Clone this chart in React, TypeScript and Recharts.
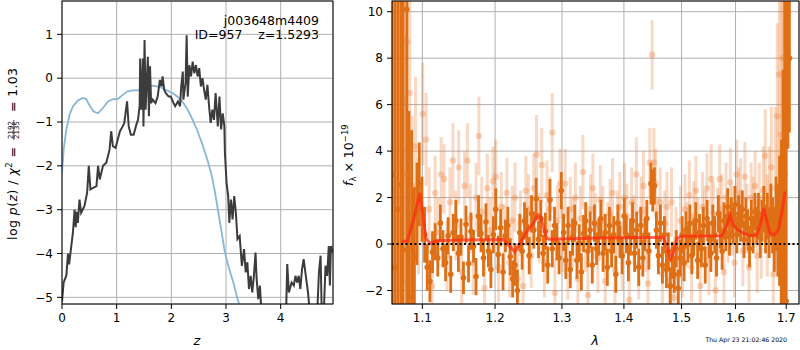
import React from 'react';
import { LineChart, Line, XAxis, YAxis, CartesianGrid, ComposedChart, Scatter, ErrorBar, ReferenceLine } from 'recharts';

// ---- left panel: log p(z) ----
const pzZ = [0.0,0.03,0.08,0.11,0.13,0.17,0.2,0.23,0.25,0.27,0.29,0.32,0.35,0.41,0.46,0.49,0.52,0.57,0.63,0.66,0.69,0.75,0.81,0.87,0.9,0.93,0.98,1.02,1.06,1.11,1.14,1.19,1.22,1.26,1.31,1.36,1.39,1.42,1.43,1.45,1.48,1.49,1.51,1.53,1.55,1.57,1.59,1.61,1.63,1.66,1.71,1.75,1.79,1.82,1.84,1.87,1.9,1.95,1.99,2.04,2.07,2.12,2.16,2.18,2.21,2.22,2.26,2.28,2.3,2.33,2.36,2.39,2.42,2.45,2.48,2.51,2.54,2.57,2.6,2.63,2.66,2.69,2.72,2.75,2.78,2.81,2.85,2.88,2.91,2.94,2.97,2.98,3.01,3.04,3.06,3.09,3.12,3.15,3.18,3.21,3.25,3.29,3.33,3.36,3.39,3.42,3.45,3.48,3.51,3.54,3.56,3.59,3.62,3.66,3.8,4.0,4.1,4.12,4.15,4.2,4.24,4.27,4.3,4.33,4.36,4.39,4.42,4.46,4.5,4.53,4.6,4.67,4.7,4.73,4.75,4.79,4.82,4.85,4.88,4.9,4.92,4.95];
const pzLog = [-5.1,-4.66,-4.5,-4.0,-4.25,-3.83,-3.52,-3.0,-3.4,-3.05,-3.3,-2.77,-3.07,-2.92,-2.61,-2.0,-2.54,-2.5,-2.46,-2.0,-2.31,-2.0,-1.93,-1.63,-1.21,-1.55,-1.59,-1.4,-1.21,-1.1,-1.02,-0.53,-1.1,-1.29,-1.29,-1.06,-0.95,-0.64,0.45,-0.72,0.45,-1.1,0.87,-0.72,-0.11,0.49,-0.87,0.27,-0.57,-0.49,-0.57,-0.42,-0.04,-0.19,0.04,-0.27,-0.34,-0.42,-0.42,-0.57,-0.64,-0.53,-0.64,-0.19,0.15,-0.49,-0.11,0.98,-0.42,0.3,0.04,0.38,0.11,0.3,0.04,0.23,-0.19,0.0,-0.27,-0.49,-0.15,-0.64,-1.02,-0.72,-0.95,-0.34,-1.1,-0.42,-1.17,-0.8,-1.1,-1.7,-2.39,-2.69,-3.3,-2.77,-3.22,-2.69,-3.07,-3.67,-3.6,-4.28,-3.9,-4.43,-4.2,-4.81,-4.51,-4.89,-4.51,-3.98,-4.58,-5.04,-4.73,-5.6,-6.2,-6.0,-5.3,-4.24,-4.89,-4.66,-4.73,-4.51,-4.66,-4.51,-4.81,-4.36,-4.13,-4.51,-4.89,-5.3,-6.0,-5.3,-4.43,-4.05,-5.3,-5.3,-4.28,-4.51,-3.83,-4.73,-3.83,-3.98];
const priorZ = [0.0,0.03,0.08,0.14,0.2,0.29,0.38,0.44,0.5,0.58,0.66,0.75,0.84,0.93,1.02,1.11,1.2,1.29,1.39,1.48,1.57,1.66,1.75,1.84,1.93,2.02,2.12,2.21,2.3,2.39,2.48,2.57,2.66,2.74,2.8,2.86,2.92,2.98,3.06,3.15,3.21,3.25,3.35];
const priorLog = [-2.16,-1.63,-1.17,-0.83,-0.64,-0.51,-0.45,-0.47,-0.61,-0.76,-0.8,-0.68,-0.53,-0.48,-0.48,-0.38,-0.3,-0.28,-0.28,-0.25,-0.19,-0.17,-0.19,-0.23,-0.28,-0.34,-0.43,-0.55,-0.72,-0.95,-1.21,-1.52,-1.86,-2.23,-2.61,-3.07,-3.52,-3.98,-4.36,-4.73,-5.04,-5.19,-5.8];
const zTicks = [0, 1, 2, 3, 4];
const logPTicks = [-5, -4, -3, -2, -1, 0, 1];

// ---- right panel: spectrum ----
const darkLam = [
  1.0612,1.0650,1.0685,1.0723,1.0750,1.0797,1.0826,1.0860,1.0896,1.0930,
  1.0960,1.0995,1.1030,1.1065,1.1100,1.1135,1.1170,1.1205,1.1240,1.1275,
  1.1310,1.1345,1.1380,1.1415,1.1450,1.1485,1.1520,1.1555,1.1590,1.1625,
  1.1660,1.1695,1.1730,1.1765,1.1800,1.1835,1.1870,1.1905,1.1940,1.1975,
  1.2010,1.2045,1.2080,1.2115,1.2150,1.2185,1.2220,1.2255,1.2290,1.2325,
  1.2360,1.2395,1.2430,1.2465,1.2500,1.2535,1.2570,1.2605,1.2640,1.2675,
  1.2710,1.2745,1.2780,1.2815,1.2850,1.2885,1.2920,1.2955,1.2990,1.3025,
  1.3060,1.3095,1.3130,1.3165,1.3200,1.3235,1.3270,1.3305,1.3340,1.3375,
  1.3410,1.3445,1.3480,1.3515,1.3550,1.3585,1.3620,1.3655,1.3690,1.3725,
  1.3760,1.3795,1.3830,1.3865,1.3900,1.3935,1.3970,1.4005,1.4040,1.4075,
  1.4110,1.4145,1.4180,1.4215,1.4250,1.4285,1.4320,1.4355,1.4390,1.4425,
  1.4460,1.4490,1.4520,1.4555,1.4590,1.4625,1.4660,1.4695,1.4730,1.4765,
  1.4800,1.4835,1.4870,1.4905,1.4940,1.4975,1.5010,1.5045,1.5080,1.5115,
  1.5150,1.5185,1.5220,1.5255,1.5290,1.5325,1.5360,1.5395,1.5430,1.5465,
  1.5500,1.5535,1.5570,1.5605,1.5640,1.5675,1.5710,1.5745,1.5780,1.5815,
  1.5850,1.5885,1.5920,1.5955,1.5990,1.6025,1.6060,1.6095,1.6130,1.6165,
  1.6200,1.6235,1.6270,1.6305,1.6340,1.6375,1.6410,1.6445,1.6480,1.6515,
  1.6550,1.6585,1.6620,1.6655,1.6690,1.6725,1.6760,1.6795,1.6830,1.6865,
  1.6900,1.6935,1.6970,1.7000,1.7035,1.7065];
const darkFlux = [
  3.0,-1.0,1.5,2.55,-0.26,10.1,-2.27,0.9,-0.55,1.3,
  2.57,1.5,0.4,-1.0,-1.6,-0.35,0.1,-0.6,0.9,-0.2,
  -0.8,0.35,-1.3,0.5,1.0,-0.4,0.3,-1.45,0.85,-0.85,
  0.55,-0.1,-1.4,1.2,0.45,-0.6,0.95,-0.3,-1.1,0.4,
  1.5,-0.45,0.7,-1.2,0.35,0.8,-0.55,-1.5,-0.9,-2.0,
  0.5,-0.3,1.0,0.75,-0.5,1.3,0.6,1.95,0.2,1.1,
  -0.4,0.55,-0.9,1.9,-0.2,0.8,0.1,-0.6,2.3,0.5,
  -0.7,0.8,-1.1,0.3,0.9,-0.7,0.05,-1.2,0.45,1.0,
  -0.3,0.6,-0.9,0.9,-0.2,0.3,1.1,-0.4,0.5,-1.0,
  0.8,-0.3,0.4,-1.3,0.9,0.1,-0.5,1.2,0.4,-0.8,
  0.3,1.0,-0.4,0.6,-1.0,0.8,-0.6,0.4,1.1,-0.3,
  2.6,2.3,2.5,0.6,-0.5,0.9,-0.9,0.4,-1.1,-0.3,
  -1.8,-0.7,-1.3,-0.2,-1.9,-0.6,0.4,-0.8,0.6,0.0,
  0.9,-0.5,0.3,1.0,-0.7,0.5,-0.2,0.8,-0.9,1.1,
  0.2,-0.4,0.9,0.4,-0.6,1.3,0.6,-0.3,1.0,0.5,
  1.6,0.3,1.2,0.8,1.7,0.4,1.3,0.9,1.5,0.2,
  1.2,0.7,-0.2,1.1,0.4,1.4,0.8,1.3,0.3,1.0,
  1.6,0.6,1.2,0.4,1.5,0.8,0.2,1.3,0.6,1.0,
  0.5,1.5,3.0,-2.45,8.0,8.0];
const darkErr = [
  30,30,30,25,20,20,8,4,3,2.2,
  1.8,1.4,1.2,1.0,0.9,0.9,0.8,0.8,0.8,0.8,
  0.8,0.8,0.8,0.8,0.9,0.8,0.8,0.7,0.8,0.8,
  0.8,0.7,0.8,0.9,0.8,0.8,0.8,0.7,0.8,0.8,
  0.9,0.8,0.8,0.8,0.7,0.8,0.8,0.8,0.9,0.9,
  0.8,0.8,0.8,0.8,0.8,0.8,0.8,0.9,0.8,0.8,
  0.8,0.8,0.8,0.9,0.8,0.8,0.8,0.7,0.8,0.8,
  0.8,0.8,0.8,0.8,0.8,0.8,0.8,0.8,0.8,0.8,
  0.7,0.8,0.8,0.8,0.7,0.8,0.8,0.8,0.8,0.8,
  0.8,0.7,0.8,0.8,0.8,0.7,0.8,0.8,0.8,0.8,
  0.8,0.8,0.8,0.8,0.8,0.8,0.8,0.7,0.8,0.8,
  0.9,0.9,0.8,0.8,0.8,0.8,0.8,0.8,0.8,0.8,
  0.8,0.8,0.8,0.8,0.8,0.8,0.8,0.8,0.8,0.8,
  0.8,0.8,0.8,0.8,0.8,0.8,0.8,0.8,0.8,0.8,
  0.8,0.8,0.8,0.8,0.8,0.8,0.8,0.8,0.8,0.8,
  0.8,0.8,0.8,0.8,0.8,0.8,0.8,0.8,0.8,0.8,
  0.8,0.8,0.8,0.8,0.8,0.8,0.8,0.9,0.9,0.9,
  0.9,1.0,1.0,1.0,1.1,1.2,1.4,1.6,2.0,2.8,
  4,6,10,20,3.9,3.2];

const lightLam = [
  1.0640,1.0700,1.0760,1.0790,1.0805,1.0835,1.0870,1.0910,1.0950,1.1005,
  1.1050,1.1090,1.1130,1.1170,1.1210,1.1250,1.1290,1.1330,1.1370,1.1410,
  1.1450,1.1490,1.1530,1.1570,1.1610,1.1650,1.1690,1.1730,1.1770,1.1810,
  1.1850,1.1890,1.1930,1.1970,1.2010,1.2050,1.2090,1.2130,1.2170,1.2210,
  1.2250,1.2290,1.2330,1.2370,1.2410,1.2450,1.2490,1.2530,1.2570,1.2610,
  1.2650,1.2690,1.2730,1.2770,1.2810,1.2850,1.2890,1.2930,1.2970,1.3010,
  1.3050,1.3090,1.3130,1.3170,1.3210,1.3250,1.3290,1.3330,1.3370,1.3410,
  1.3450,1.3490,1.3530,1.3570,1.3610,1.3650,1.3690,1.3730,1.3770,1.3810,
  1.3850,1.3890,1.3930,1.3970,1.4010,1.4050,1.4090,1.4130,1.4170,1.4210,
  1.4250,1.4290,1.4330,1.4370,1.4410,1.4440,1.4480,1.4510,1.4540,1.4580,
  1.4620,1.4660,1.4700,1.4740,1.4780,1.4820,1.4860,1.4900,1.4940,1.4980,
  1.5020,1.5060,1.5100,1.5140,1.5180,1.5220,1.5260,1.5300,1.5340,1.5380,
  1.5420,1.5460,1.5500,1.5540,1.5580,1.5620,1.5660,1.5700,1.5740,1.5780,
  1.5820,1.5860,1.5900,1.5940,1.5980,1.6020,1.6060,1.6100,1.6140,1.6180,
  1.6220,1.6260,1.6300,1.6340,1.6380,1.6420,1.6460,1.6500,1.6540,1.6580,
  1.6620,1.6660,1.6700,1.6740,1.6780,1.6820,1.6860,1.6900,1.6930,1.6960];
const lightFlux = [
  4.0,1.5,6.2,3.0,8.7,6.5,2.5,4.2,1.2,5.6,
  4.5,1.5,-1.8,2.2,0.5,3.0,2.8,-0.5,1.8,3.6,
  0.8,3.3,-1.2,2.5,3.6,1.1,-0.8,2.0,4.65,1.4,
  -1.9,2.4,0.6,2.7,2.9,-1.0,1.6,0.3,2.2,-0.8,
  1.0,2.0,-1.5,0.9,-1.8,2.3,1.5,-0.5,2.4,3.85,
  0.7,3.4,-0.8,2.1,1.5,4.8,-2.1,1.0,2.6,0.2,
  2.6,-0.9,1.5,0.5,2.0,-1.5,1.1,3.1,0.3,-2.2,
  1.5,2.4,0.8,-0.6,1.9,1.0,-1.6,0.4,1.3,2.2,
  -1.1,0.9,1.6,-0.5,2.0,1.2,-2.4,1.8,0.6,3.0,
  -0.9,1.4,2.5,0.2,-1.7,3.5,8.15,3.5,2.6,0.5,
  1.8,-1.3,0.9,1.6,-1.6,1.8,-2.3,0.2,-1.4,1.0,
  -0.8,1.5,0.4,2.1,-1.0,1.2,2.3,0.6,-1.8,1.6,
  0.8,2.4,-0.7,2.8,1.3,-2.0,0.9,2.8,1.5,-1.2,
  2.0,0.6,2.65,1.0,-0.8,3.0,1.8,2.2,-0.3,2.9,
  1.1,-1.0,2.0,1.4,2.5,-0.5,1.8,0.3,2.3,3.8,
  0.8,1.8,3.3,-1.3,2.4,5.5,7.3,4.7,8.0,2.0];
const lightErr = [
  30,25,8,6,5,4,3,3,2.5,2.2,
  2.0,1.8,1.6,1.6,1.5,1.6,1.5,1.5,1.5,1.6,
  1.5,1.6,1.4,1.5,1.6,1.5,1.4,1.5,1.7,1.5,
  1.5,1.5,1.4,1.5,1.6,1.5,1.5,1.4,1.5,1.5,
  1.5,1.5,1.5,1.4,1.5,1.5,1.5,1.4,1.5,1.7,
  1.5,1.6,1.5,1.5,1.4,1.7,1.5,1.5,1.5,1.4,
  1.5,1.5,1.4,1.5,1.5,1.5,1.4,1.6,1.5,1.5,
  1.5,1.5,1.4,1.5,1.5,1.5,1.5,1.4,1.5,1.5,
  1.5,1.4,1.5,1.5,1.5,1.4,1.5,1.5,1.5,1.6,
  1.5,1.5,1.5,1.4,1.5,1.5,1.5,1.5,1.5,1.5,
  1.5,1.5,1.4,1.5,1.5,1.5,1.5,1.4,1.5,1.5,
  1.5,1.5,1.4,1.5,1.5,1.5,1.5,1.4,1.5,1.5,
  1.5,1.5,1.5,1.5,1.4,1.5,1.5,1.5,1.5,1.5,
  1.5,1.4,1.5,1.5,1.5,1.5,1.5,1.5,1.5,1.5,
  1.5,1.5,1.5,1.5,1.5,1.6,1.7,1.8,1.9,2.0,
  2.2,2.4,2.6,3.0,3.5,4,6,8,12,20];

const modelLam = [1.0732,1.0805,1.0883,1.0935,1.0970,1.1005,1.1049,1.1102,1.1191,1.1553,1.2120,1.2217,1.2290,1.2364,1.2461,1.2562,1.2637,1.2673,1.2765,1.2816,1.3550,1.4676,1.4735,1.4806,1.4853,1.4913,1.5003,1.5737,1.5830,1.5894,1.5955,1.6050,1.6147,1.6277,1.6410,1.6487,1.6553,1.6606,1.6673,1.6753,1.6841,1.6908,1.6976];
const modelFlux = [0.1,0.14,1.03,1.75,2.2,1.32,0.24,0.03,0.14,0.17,0.2,-0.11,-0.33,0.03,0.53,0.89,1.25,1.18,0.24,0.21,0.26,0.29,-0.11,-0.62,-0.4,0.24,0.34,0.36,0.75,1.25,0.82,0.6,0.46,0.37,0.39,0.89,1.54,1.03,0.46,0.39,0.6,1.32,2.26];
const lamTicks = [1.1, 1.2, 1.3, 1.4, 1.5, 1.6, 1.7];
const fluxTicks = [-2, 0, 2, 4, 6, 8, 10];

const pzData = pzZ.map((z, i) => ({ z, y: pzLog[i] }));
const priorData = priorZ.map((z, i) => ({ z, y: priorLog[i] }));
const darkData = darkLam.map((lam, i) => ({ lam, f: darkFlux[i], e: darkErr[i] }));
const lightData = lightLam.map((lam, i) => ({ lam, f: lightFlux[i], e: lightErr[i] }));
const modelData = modelLam.map((lam, i) => ({ lam, f: modelFlux[i] }));

const FONT = '"DejaVu Sans", sans-serif';
const minus = (v: number) => (v < 0 ? '\u2212' + Math.abs(v) : String(v));
const tickStyle = { fontSize: 12, fill: '#000', fontFamily: FONT };
const ORANGE = '#df6f15';
const LAM_DOMAIN: [number, number] = [1.0608, 1.7262];
const FLUX_DOMAIN: [number, number] = [-2.58, 10.46];
const R_MARGIN = { top: 1, right: 1, bottom: 16, left: 12 };
const CLIP = 'inset(1px 1px 46px 62px)';

const DarkDot = (p: any) => <circle cx={p.cx} cy={p.cy} r={2.8} fill={ORANGE} />;
const LightDot = (p: any) => <circle cx={p.cx} cy={p.cy} r={3.2} fill="#e8782a" fillOpacity={0.3} />;

function HiddenAxes() {
  return null;
}

export default function App() {
  const hiddenX = (
    <XAxis type="number" dataKey="lam" scale="log" domain={LAM_DOMAIN} allowDataOverflow height={30} tick={false} tickLine={false} axisLine={false} />
  );
  const hiddenY = (
    <YAxis type="number" dataKey="f" domain={FLUX_DOMAIN} allowDataOverflow width={50} tick={false} tickLine={false} axisLine={false} />
  );
  return (
    <div style={{ position: 'absolute', left: 0, top: 0, width: 800, height: 350, background: '#fff', fontFamily: FONT }}>
      <div style={{ position: 'absolute', left: 0, top: 0 }}>
        <LineChart width={340} height={350} margin={{ top: 1, right: 7, bottom: 16, left: 12 }}>
          <CartesianGrid stroke="#b0b0b0" strokeWidth={1} />
          <XAxis type="number" dataKey="z" domain={[0, 4.957]} ticks={zTicks} allowDataOverflow interval={0}
            height={30} tick={tickStyle} tickSize={5} tickMargin={4} axisLine={false} tickLine={{ stroke: '#000' }} />
          <YAxis type="number" domain={[-5.152, 1.761]} ticks={logPTicks} allowDataOverflow interval={0}
            width={50} tick={tickStyle} tickSize={5} tickMargin={4} axisLine={false} tickLine={{ stroke: '#000' }} tickFormatter={minus} />
          <Line data={priorData} dataKey="y" type="linear" stroke="#89b6d7" strokeWidth={1.8} dot={false} isAnimationActive={false} />
          <Line data={pzData} dataKey="y" type="linear" stroke="#3c3c3c" strokeWidth={2} dot={false} isAnimationActive={false} />
        </LineChart>
      </div>
      {/* right panel: axes + grid */}
      <div style={{ position: 'absolute', left: 330, top: 0 }}>
        <ComposedChart width={470} height={350} margin={R_MARGIN}>
          <CartesianGrid stroke="#b0b0b0" strokeWidth={1} />
          <XAxis type="number" dataKey="lam" scale="log" domain={LAM_DOMAIN} ticks={lamTicks} allowDataOverflow interval={0}
            height={30} tick={tickStyle} tickSize={5} tickMargin={4} axisLine={false} tickLine={{ stroke: '#000' }} tickFormatter={(v: number) => v.toFixed(1)} />
          <YAxis type="number" dataKey="f" domain={FLUX_DOMAIN} ticks={fluxTicks} allowDataOverflow interval={0}
            width={50} tick={tickStyle} tickSize={5} tickMargin={4} axisLine={false} tickLine={{ stroke: '#000' }} tickFormatter={minus} />
          <Line data={modelData} dataKey="f" stroke="none" dot={false} isAnimationActive={false} />
        </ComposedChart>
      </div>
      {/* right panel: data with error bars, clipped to the plot area */}
      <div style={{ position: 'absolute', left: 330, top: 0, clipPath: CLIP }}>
        <ComposedChart width={470} height={350} margin={R_MARGIN}>
          {hiddenX}
          {hiddenY}
          <Scatter data={lightData} dataKey="f" shape={LightDot} isAnimationActive={false}>
            <ErrorBar dataKey="e" direction="y" width={0} stroke="#e8782a" strokeOpacity={0.28} strokeWidth={3} />
          </Scatter>
          <Scatter data={darkData} dataKey="f" shape={DarkDot} isAnimationActive={false}>
            <ErrorBar dataKey="e" direction="y" width={0} stroke={ORANGE} strokeWidth={2.8} />
          </Scatter>
        </ComposedChart>
      </div>
      {/* right panel: model and zero line on top */}
      <div style={{ position: 'absolute', left: 330, top: 0, clipPath: CLIP }}>
        <ComposedChart width={470} height={350} margin={R_MARGIN}>
          {hiddenX}
          {hiddenY}
          <Line data={modelData} dataKey="f" type="linear" stroke="#ff2a10" strokeOpacity={0.72} strokeWidth={3} dot={false} isAnimationActive={false} />
          <ReferenceLine y={0} stroke="#000" strokeWidth={2} strokeDasharray="2 2.5" />
        </ComposedChart>
      </div>
      <svg width={800} height={350} style={{ position: 'absolute', left: 0, top: 0, pointerEvents: 'none' }} fontFamily={FONT}>
        <rect x={62} y={1} width={271} height={303} fill="none" stroke="#000" strokeWidth={1} />
        <rect x={392} y={1} width={407} height={303} fill="none" stroke="#000" strokeWidth={1} />
        <text x={319} y={25} textAnchor="end" fontSize={12.5} fill="#000">j003648m4409</text>
        <text x={319} y={39} textAnchor="end" fontSize={12.5} fill="#000" style={{ whiteSpace: 'pre' }}>ID=957    z=1.5293</text>
        <text x={197} y={345} textAnchor="middle" fontSize={13} fontStyle="italic" fill="#000">z</text>
        <text x={595} y={345} textAnchor="middle" fontSize={13} fontStyle="italic" fill="#000">λ</text>
        <g transform="translate(17,0) rotate(-90)">
          <text x={-240} y={0} fontSize={12.5} fill="#000" textLength={93} lengthAdjust="spacing">
            log <tspan fontStyle="italic">p</tspan>(<tspan fontStyle="italic">z</tspan>) / <tspan fontStyle="italic">χ</tspan><tspan fontSize={8.5} dy={-5}>2</tspan><tspan dy={5}> =</tspan>
          </text>
          <text x={-130} y={-4.2} fontSize={7} textAnchor="middle" fill="#000">2192</text>
          <line x1={-140} x2={-120} y1={-3.2} y2={-3.2} stroke="#000" strokeWidth={0.7} />
          <text x={-130} y={2.0} fontSize={7} textAnchor="middle" fill="#000">2135</text>
          <text x={-112} y={0} fontSize={12.5} fill="#000" textLength={44} lengthAdjust="spacing">= 1.03</text>
        </g>
        <g transform="translate(353,0) rotate(-90)">
          <text x={-186} y={0} fontSize={12.5} fill="#000">
            <tspan fontStyle="italic">f</tspan><tspan fontSize={8.5} dy={3}>λ</tspan><tspan dy={-3}> × 10</tspan><tspan fontSize={8.5} dy={-5.5}>−19</tspan>
          </text>
        </g>
        <text x={787} y={342} textAnchor="end" fontSize={6.2} fill="#000">Thu Apr 23 21:02:46 2020</text>
      </svg>
    </div>
  );
}
